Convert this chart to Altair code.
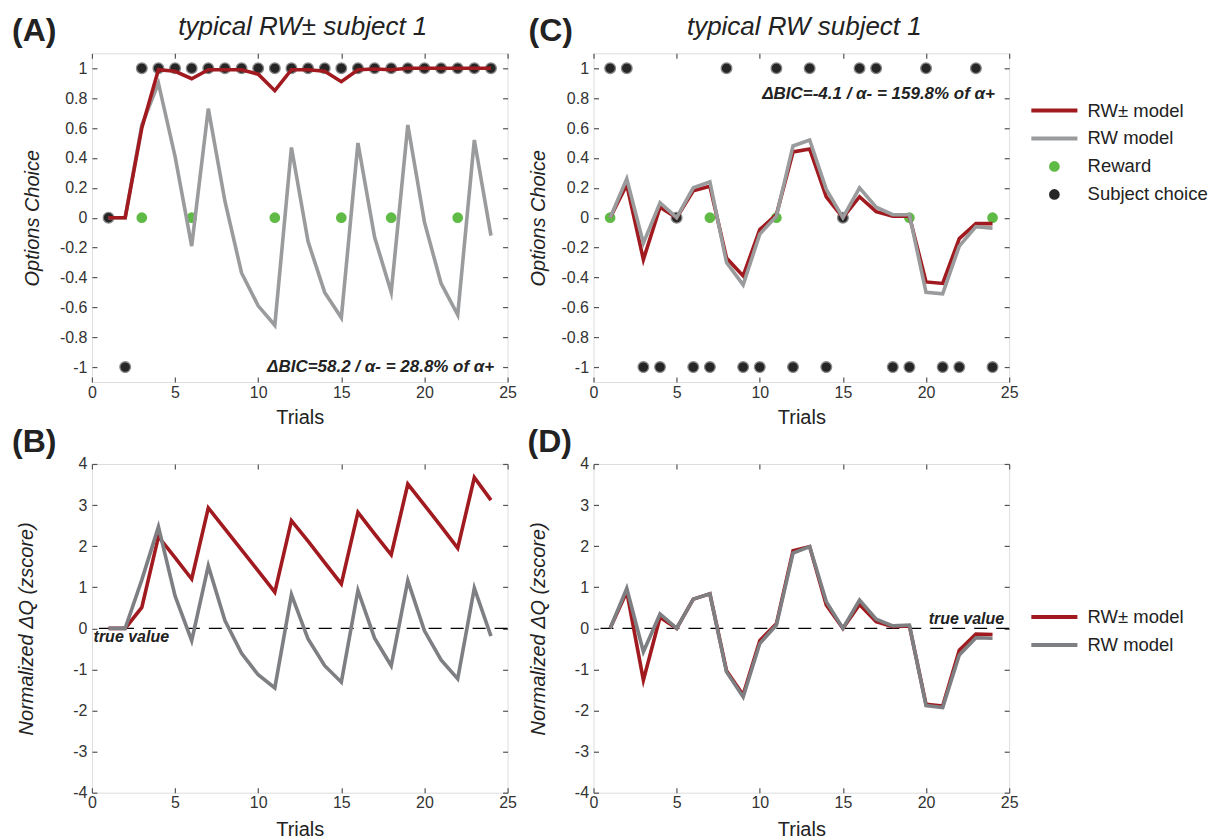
import altair as alt
import pandas as pd

# ---------------- data ----------------
trials = list(range(1, 25))

# (A) typical RW± subject: options choice
a_rw_pm = [0, 0, 0.60, 0.99, 0.98, 0.93, 0.99, 0.99, 0.99, 0.96, 0.85, 0.99,
           0.99, 0.98, 0.91, 0.99, 0.995, 0.99, 1.0, 1.0, 1.0, 1.0, 1.0, 1.0]
a_rw = [0, 0, 0.62, 0.90, 0.41, -0.19, 0.73, 0.11, -0.37, -0.59, -0.72, 0.47,
        -0.16, -0.50, -0.67, 0.50, -0.13, -0.50, 0.62, -0.03, -0.44, -0.65, 0.52, -0.12]
a_choice = [0, -1, 1, 1, 1, 1, 1, 1, 1, 1, 1, 1,
            1, 1, 1, 1, 1, 1, 1, 1, 1, 1, 1, 1]
a_reward_trials = [3, 6, 11, 15, 18, 22]

# (C) typical RW subject: options choice
c_rw_pm = [0, 0.22, -0.28, 0.07, 0, 0.18, 0.21, -0.27, -0.39, -0.08, 0.02, 0.44,
           0.46, 0.14, 0, 0.14, 0.04, 0.01, 0.01, -0.43, -0.44, -0.14, -0.04, -0.04]
c_rw = [0, 0.26, -0.17, 0.10, 0, 0.20, 0.24, -0.30, -0.45, -0.11, 0.01, 0.48,
        0.52, 0.19, 0, 0.20, 0.07, 0.02, 0.02, -0.50, -0.51, -0.19, -0.06, -0.07]
c_choice = [1, 1, -1, -1, 0, -1, -1, 1, -1, -1, 1, -1,
            1, -1, 0, 1, 1, -1, -1, 1, -1, -1, 1, -1]
c_reward_trials = [1, 7, 11, 19, 24]

# (B) normalized delta Q, RW± subject
b_rw_pm = [0, 0, 0.51, 2.23, 1.72, 1.20, 2.93, 2.42, 1.91, 1.40, 0.88, 2.62,
           2.12, 1.60, 1.08, 2.82, 2.30, 1.79, 3.51, 3.00, 2.48, 1.95, 3.67, 3.12]
b_rw = [0, 0, 1.18, 2.47, 0.79, -0.30, 1.52, 0.19, -0.61, -1.13, -1.45, 0.82,
        -0.26, -0.91, -1.31, 0.92, -0.24, -0.91, 1.16, -0.06, -0.77, -1.23, 0.98, -0.19]

# (D) normalized delta Q, RW subject
d_rw_pm = [0, 0.89, -1.26, 0.27, 0, 0.71, 0.84, -1.03, -1.62, -0.30, 0.11, 1.89,
           1.99, 0.57, 0, 0.58, 0.16, 0.04, 0.06, -1.85, -1.89, -0.53, -0.14, -0.15]
d_rw = [0, 0.97, -0.57, 0.35, 0, 0.71, 0.84, -1.06, -1.67, -0.37, 0.08, 1.83,
        1.99, 0.65, 0, 0.69, 0.22, 0.06, 0.08, -1.88, -1.93, -0.65, -0.23, -0.24]

models = ["RW± model", "RW model"]
point_kinds = ["Reward", "Subject choice"]

x_ticks = [0, 5, 10, 15, 20, 25]
y_ticks_top = [-1, -0.8, -0.6, -0.4, -0.2, 0, 0.2, 0.4, 0.6, 0.8, 1]
y_ticks_bottom = [-4, -3, -2, -1, 0, 1, 2, 3, 4]

annot_a = {"text": ["ΔBIC=58.2 / α- = 28.8% of α+"], "x": [24.2], "y": [-1.0]}
annot_c = {"text": ["ΔBIC=-4.1 / α- = 159.8% of α+"], "x": [24.15], "y": [0.83]}
true_b = {"text": ["true value"], "x": [0.1], "y": [-0.2]}
true_d = {"text": ["true value"], "x": [24.7], "y": [0.22]}

# ---------------- style ----------------
FONT = "Liberation Sans"
RED = "#a01a1f"
GREY_TOP = "#9a9b9d"
GREY_BOT = "#7d7f82"
GREEN = "#5fbb46"
DARK = "#262626"
AXC = "#555555"
W, H = 416, 329


def tick_axis(orient, offset, values):
    return alt.Axis(orient=orient, offset=offset, values=values, labels=False,
                    title=None, domain=False, grid=False, ticks=True,
                    tickSize=5, tickColor=AXC, tickWidth=1.2)


def panel(letter, letter_dx, title, rw_pm, rw, grey, ydom, yticks, ytitle,
          ytitle_x, xtitle_y, choice=None, reward_trials=None, annot=None,
          annot_align="right", trueval=None, true_align="left",
          line_legend=None, point_legend=None, red_on_top=False):
    xs = alt.Scale(domain=[0, 25], nice=False, zero=False)
    ys = alt.Scale(domain=ydom, nice=False, zero=False)

    df_lines = pd.DataFrame({
        "trial": trials + trials,
        "value": rw_pm + rw,
        "model": [models[0]] * len(trials) + [models[1]] * len(trials),
    })

    stroke_scale = alt.Scale(domain=models, range=[RED, grey])

    main_x = alt.Axis(title="Trials", values=x_ticks, ticks=False, tickSize=0,
                      domain=False, grid=False, labelFont=FONT, labelFontSize=16,
                      labelColor="#333333", labelPadding=2, labelFlush=False,
                      labelOverlap=False, titleFont=FONT, titleFontSize=20,
                      titleFontWeight="normal", titleColor="#222222",
                      titleY=xtitle_y, titleBaseline="top")
    main_y = alt.Axis(title=ytitle, values=yticks, ticks=False, tickSize=0,
                      domain=False, grid=False, labelFont=FONT, labelFontSize=16,
                      labelColor="#333333", labelPadding=5, labelFlush=False,
                      labelOverlap=False, labelExpr="toString(datum.value)",
                      titleFont=FONT, titleFontSize=20, titleFontStyle="italic",
                      titleFontWeight="normal", titleColor="#222222",
                      titleX=ytitle_x, titleY=H / 2, titleAngle=270,
                      titleBaseline="bottom", titleAlign="center")

    def line_layer(model, axes):
        enc_stroke = alt.Stroke("model:N", scale=stroke_scale,
                                legend=line_legend)
        if axes:
            xe = alt.X("trial:Q", scale=xs, axis=main_x)
            ye = alt.Y("value:Q", scale=ys, axis=main_y)
        else:
            xe = alt.X("trial:Q", scale=xs, axis=None)
            ye = alt.Y("value:Q", scale=ys, axis=None)
        return alt.Chart(df_lines).transform_filter(
            alt.datum.model == model
        ).mark_line(strokeWidth=3.6, strokeJoin="miter", strokeMiterLimit=6).encode(
            x=xe, y=ye, stroke=enc_stroke)

    layers = []

    # inward ticks on all four sides
    carrier1 = alt.Chart(df_lines).mark_point(opacity=0).encode(
        x=alt.X("trial:Q", scale=xs, axis=tick_axis("top", -H, x_ticks)),
        y=alt.Y("value:Q", scale=ys, axis=tick_axis("right", -W, yticks)))
    carrier2 = alt.Chart(df_lines).mark_point(opacity=0).encode(
        x=alt.X("trial:Q", scale=xs, axis=tick_axis("bottom", -H, x_ticks)),
        y=alt.Y("value:Q", scale=ys, axis=tick_axis("left", -W, yticks)))
    layers += [carrier1, carrier2]

    if trueval is not None:
        rule = alt.Chart(pd.DataFrame({"v": [0]})).mark_rule(
            color="black", strokeDash=[13, 9], strokeWidth=1.2
        ).encode(y=alt.Y("v:Q", scale=ys, axis=None))
        layers.append(rule)

    if choice is not None:
        fill_scale = alt.Scale(domain=point_kinds, range=[GREEN, DARK])
        df_choice = pd.DataFrame({"trial": trials, "value": choice,
                                  "kind": [point_kinds[1]] * len(trials)})
        df_reward = pd.DataFrame({"trial": reward_trials,
                                  "value": [0] * len(reward_trials),
                                  "kind": [point_kinds[0]] * len(reward_trials)})
        reward = alt.Chart(df_reward).mark_point(
            filled=True, size=115, opacity=1, strokeWidth=0
        ).encode(x=alt.X("trial:Q", scale=xs, axis=None),
                 y=alt.Y("value:Q", scale=ys, axis=None),
                 fill=alt.Fill("kind:N", scale=fill_scale, legend=point_legend))
        chosen = alt.Chart(df_choice).mark_point(
            filled=True, size=115, opacity=1, stroke="#8a8a8a", strokeWidth=1.3
        ).encode(x=alt.X("trial:Q", scale=xs, axis=None),
                 y=alt.Y("value:Q", scale=ys, axis=None),
                 fill=alt.Fill("kind:N", scale=fill_scale, legend=point_legend))
        layers += [reward, chosen]

    if red_on_top:
        layers += [line_layer(models[1], False), line_layer(models[0], True)]
    else:
        layers += [line_layer(models[0], True), line_layer(models[1], False)]

    if annot is not None:
        t = alt.Chart(pd.DataFrame(annot)).mark_text(
            font=FONT, fontSize=17, fontStyle="italic", fontWeight="bold",
            color="#222222", align=annot_align, baseline="middle"
        ).encode(x=alt.X("x:Q", scale=xs, axis=None),
                 y=alt.Y("y:Q", scale=ys, axis=None), text="text:N")
        layers.append(t)

    if trueval is not None:
        t = alt.Chart(pd.DataFrame(trueval)).mark_text(
            font=FONT, fontSize=16, fontStyle="italic", fontWeight="bold",
            color="#222222", align=true_align, baseline="middle"
        ).encode(x=alt.X("x:Q", scale=xs, axis=None),
                 y=alt.Y("y:Q", scale=ys, axis=None), text="text:N")
        layers.append(t)

    lab = alt.Chart(pd.DataFrame({"label": [letter]})).mark_text(
        font=FONT, fontSize=32, fontWeight="bold", color="#222222",
        align="left", baseline="middle"
    ).encode(x=alt.value(letter_dx), y=alt.value(-22), text="label:N")
    layers.append(lab)

    if title is not None:
        tt = alt.Chart(pd.DataFrame({"label": [title]})).mark_text(
            font=FONT, fontSize=26, fontStyle="italic", fontWeight="normal",
            color="#222222", align="center", baseline="middle"
        ).encode(x=alt.value(W / 2 + 3), y=alt.value(-26), text="label:N")
        layers.append(tt)

    return alt.layer(*layers).resolve_axis(
        x="independent", y="independent"
    ).properties(width=W, height=H)


legend_common = dict(title=None, orient="none", padding=0, labelFont=FONT,
                     labelFontSize=18.5, labelColor="#222222", rowPadding=9,
                     symbolSize=115, labelOffset=24)
LINE_SYMBOL = "M-4.3,0H4.3"

line_leg_c = alt.Legend(legendX=452, legendY=48, symbolType=LINE_SYMBOL,
                        symbolStrokeWidth=4, **legend_common)
point_leg_c = alt.Legend(legendX=452, legendY=104, symbolType="circle",
                         symbolStrokeWidth=0, **legend_common)
line_leg_d = alt.Legend(legendX=452, legendY=144, symbolType=LINE_SYMBOL,
                        symbolStrokeWidth=4, **legend_common)

pA = panel("(A)", -80, "typical RW± subject 1", a_rw_pm, a_rw, GREY_TOP,
           [-1.1, 1.1], y_ticks_top, "Options Choice", -49, 25,
           choice=a_choice, reward_trials=a_reward_trials, annot=annot_a,
           red_on_top=True)
pC = panel("(C)", -65, "typical RW subject 1", c_rw_pm, c_rw, GREY_TOP,
           [-1.1, 1.1], y_ticks_top, "Options Choice", -45, 25,
           choice=c_choice, reward_trials=c_reward_trials, annot=annot_c,
           line_legend=line_leg_c, point_legend=point_leg_c)
pB = panel("(B)", -80, None, b_rw_pm, b_rw, GREY_BOT, [-4, 4], y_ticks_bottom,
           "Normalized ΔQ (zscore)", -55, 27, trueval=true_b, true_align="left")
pD = panel("(D)", -66, None, d_rw_pm, d_rw, GREY_BOT, [-4, 4], y_ticks_bottom,
           "Normalized ΔQ (zscore)", -45, 27, trueval=true_d, true_align="right",
           line_legend=line_leg_d)

chart = alt.ConcatChart(
    concat=[pA, pC, pB, pD], columns=2,
    spacing={"row": 82, "column": 86}, bounds="flush"
).resolve_scale(
    x="independent", y="independent", stroke="independent", fill="independent"
).resolve_legend(
    stroke="independent", fill="independent"
).properties(
    padding={"left": 3, "top": 5, "right": 0, "bottom": 5}
).configure_view(
    stroke=AXC, strokeWidth=1.5
).configure(background="white")

chart.save("out.html", embed_options={"renderer": "svg", "actions": False})
